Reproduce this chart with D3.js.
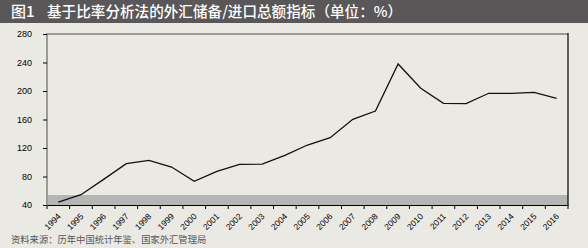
<!DOCTYPE html>
<html><head><meta charset="utf-8">
<script src="https://cdn.jsdelivr.net/npm/d3@7"></script>
<style>
html,body{margin:0;padding:0;background:#ebe9e3;}
svg{display:block;}
</style></head>
<body>
<svg id="chart" width="588" height="248"></svg>
<script>
const years = ["1994","1995","1996","1997","1998","1999","2000","2001","2002","2003","2004","2005","2006","2007","2008","2009","2010","2011","2012","2013","2014","2015","2016"];
const values = [44,54.5,76,98,102.7,93.3,73.2,87.3,97.1,97.5,109.7,124.2,134.5,160.3,171.9,237.9,203.8,182.7,182.2,196.8,196.8,198.2,189.8];
const yTicks = [40,80,120,160,200,240,280];
const bandRange = [40,54];
const titleLabel = "图1";
const titleText = "基于比率分析法的外汇储备/进口总额指标（单位：%）";
const sourceText = "资料来源：历年中国统计年鉴、国家外汇管理局";

const svg = d3.select("#chart");
const W = 588, H = 248;
const m = {left:47, right:20, top:34, bottom:43};
const x = d3.scaleBand().domain(years).range([m.left, W - m.right]).padding(0);
const y = d3.scaleLinear().domain([40,280]).range([H - m.bottom, m.top]);

svg.append("rect").attr("width",W).attr("height",H).attr("fill","#ebe9e3");
// title bar
svg.append("rect").attr("x",0).attr("y",0).attr("width",W).attr("height",23).attr("fill","#595757");
const tfont = "'Noto Sans CJK SC', sans-serif";
svg.append("text").attr("x",11).attr("y",17).attr("fill","#ffffff")
  .attr("font-family",tfont).attr("font-size",15).attr("font-weight",500).text(titleLabel);
svg.append("text").attr("x",47).attr("y",17).attr("fill","#ffffff")
  .attr("font-family",tfont).attr("font-size",14.6).attr("font-weight",500).text(titleText);

// grey band
svg.append("rect").attr("x",m.left).attr("width",(W-m.right)-m.left)
  .attr("y",y(bandRange[1])).attr("height",y(bandRange[0])-y(bandRange[1])).attr("fill","#b5b5b5");

// borders
svg.append("line").attr("x1",m.left).attr("x2",W-m.right).attr("y1",y(280)).attr("y2",y(280))
  .attr("stroke","#9a9a9a").attr("stroke-width",2);
svg.append("line").attr("x1",W-m.right).attr("x2",W-m.right).attr("y1",y(280)-1).attr("y2",y(40))
  .attr("stroke","#000").attr("stroke-width",1.2);
svg.append("line").attr("x1",m.left).attr("x2",m.left).attr("y1",y(280)-1).attr("y2",y(40))
  .attr("stroke","#9a9a9a").attr("stroke-width",2);

// y axis
const yAxis = svg.append("g").attr("transform",`translate(${m.left},0)`)
  .call(d3.axisLeft(y).tickValues(yTicks).tickSize(4).tickPadding(11));
yAxis.select(".domain").remove();
yAxis.selectAll("line").attr("stroke","#000");
yAxis.selectAll("text").attr("font-family","'Liberation Sans', Arial, sans-serif").attr("font-size",9).attr("fill","#000");

// x axis with ticks at band boundaries
const xAxis = svg.append("g").attr("transform",`translate(0,${y(40)})`)
  .call(d3.axisBottom(x).tickSize(0).tickFormat(d=>d));
xAxis.select(".domain").attr("stroke","#000").attr("stroke-width",1);
xAxis.selectAll(".tick text")
  .attr("font-family","'Liberation Sans', Arial, sans-serif").attr("font-size",8.5).attr("fill","#000")
  .attr("text-anchor","end").attr("dy",null).attr("y",0)
  .attr("transform","translate(3,12) rotate(-45)");
const bounds = years.map(d=>x(d)).concat([x(years[years.length-1])+x.bandwidth()]);
xAxis.selectAll(".bnd").data(bounds).join("line").attr("class","bnd")
  .attr("x1",d=>d).attr("x2",d=>d).attr("y1",0).attr("y2",4).attr("stroke","#000");

// line
const line = d3.line().x((d,i)=>x(years[i])+x.bandwidth()/2).y(d=>y(d));
svg.append("path").datum(values).attr("d",line).attr("fill","none").attr("stroke","#111").attr("stroke-width",1.3);

// source
svg.append("text").attr("x",11).attr("y",243).attr("fill","#555")
  .attr("font-family","'Noto Sans CJK SC', sans-serif").attr("font-size",9.3).text(sourceText);
</script>
</body></html>
